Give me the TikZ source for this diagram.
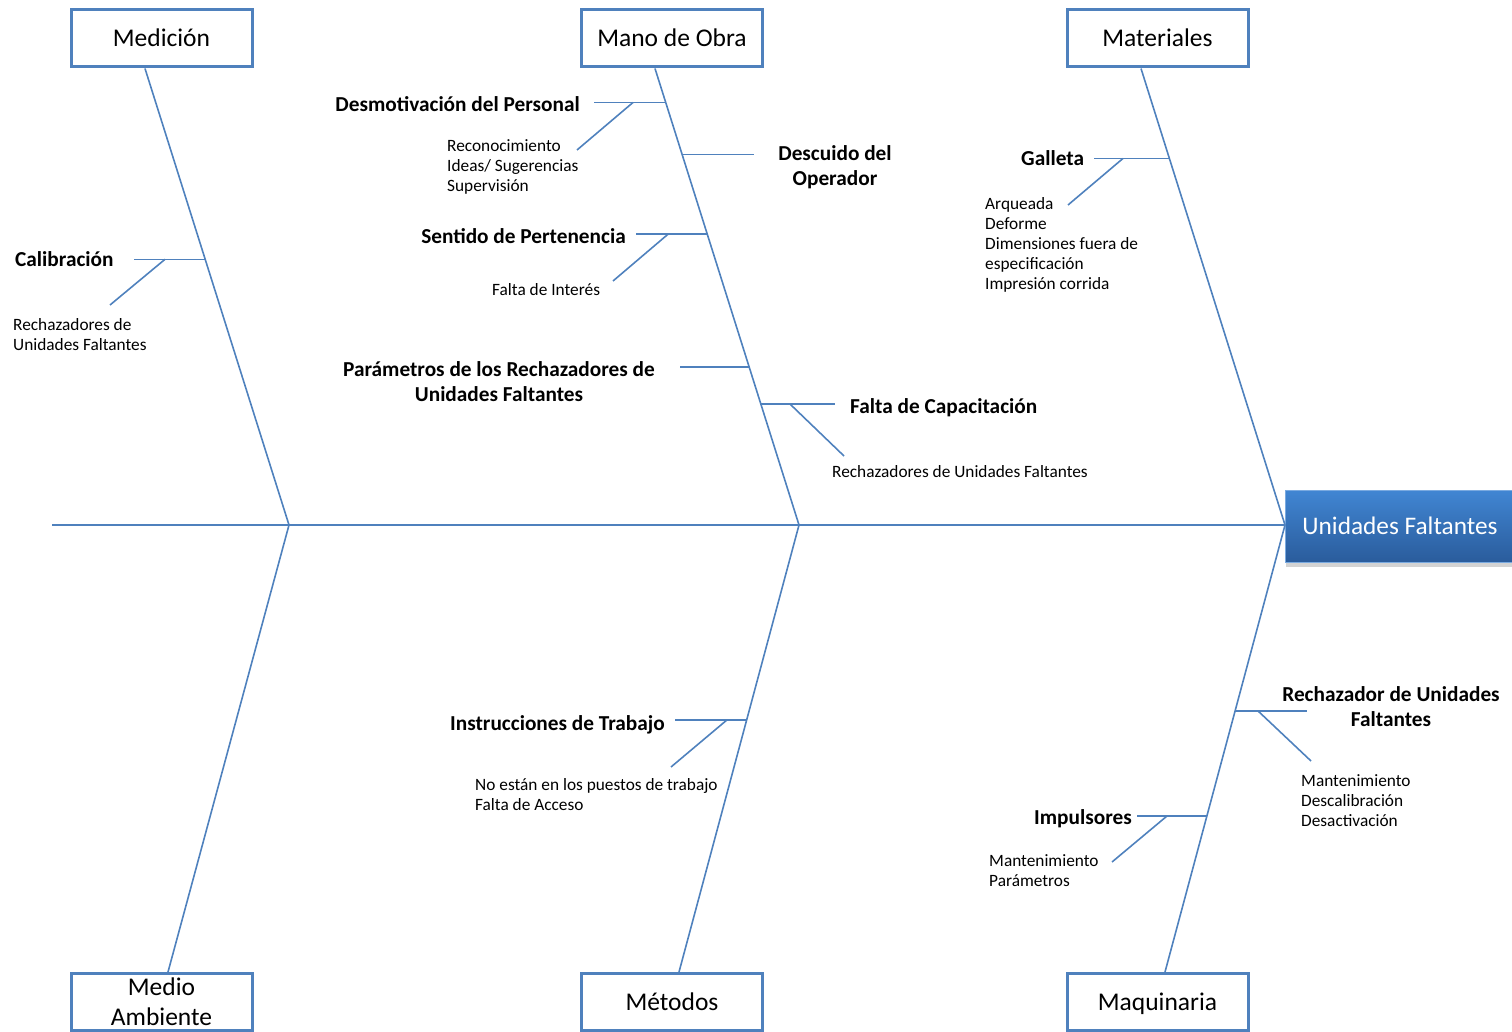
\documentclass[tikz,border=0pt]{standalone}
\usepackage{fontspec}
\setmainfont{Carlito}
\usetikzlibrary{calc,shadows}
\definecolor{bone}{HTML}{4F81BD}
\definecolor{headtop}{HTML}{4186D3}
\definecolor{headbot}{HTML}{2A5C9C}
\begin{document}
\begin{tikzpicture}[x=1pt,y=-1pt,
  catbox/.style={draw=bone, line width=3pt, fill=white, minimum width=181pt, minimum height=57pt,
    font=\fontsize{25.5}{30}\selectfont, align=center, inner sep=0pt},
  catone/.style={catbox, text height=20pt, text depth=3pt},
  headbox/.style={top color=headtop, bottom color=headbot, draw=headtop!70!white, line width=0.6pt,
    minimum width=230pt, minimum height=72pt, text=white, font=\fontsize{25.3}{30}\selectfont,
    drop shadow={shadow xshift=1pt, shadow yshift=-5pt, opacity=0.35}},
  boneline/.style={draw=bone, line width=1.6pt},
  cause/.style={font=\bfseries\fontsize{21.3}{25}\selectfont, inner sep=0pt, align=center},
  sub/.style={font=\fontsize{17.3}{20}\selectfont, inner sep=0pt, align=left, anchor=north west},
]
\useasboundingbox (0,0) rectangle (1512,1032);

% category boxes
\node[catone] (med) at (161.5,38.5) {Medición};
\node[catone] (mano) at (672,38.5) {Mano de Obra};
\node[catone] (mat) at (1157.5,38.5) {Materiales};
\node[catbox] (amb) at (161.5,1002) {Medio\\Ambiente};
\node[catone] (met) at (672,1002) {Métodos};
\node[catone] (maq) at (1157.5,1002) {Maquinaria};

% head
\node[headbox] (head) at (1400,526) {Unidades Faltantes};

% spine
\coordinate (tail) at (52,525);
\coordinate (J1) at (289,525);
\coordinate (J2) at (799,525);
\coordinate (J3) at (1285,525);
\draw[boneline] (tail) -- (J3);

% bones
\coordinate (medT) at ([xshift=-16.5pt]med.south);
\coordinate (manoT) at ([xshift=-17pt]mano.south);
\coordinate (matT) at ([xshift=-16.5pt]mat.south);
\coordinate (ambB) at ([xshift=6.5pt]amb.north);
\coordinate (metB) at ([xshift=7pt]met.north);
\coordinate (maqB) at ([xshift=7.5pt]maq.north);
\draw[boneline] (medT) -- (J1) -- (ambB);
\draw[boneline] (manoT) -- (J2) -- (metB);
\draw[boneline] (matT) -- (J3) -- (maqB);

% junctions on bones
\coordinate (c1) at ($(medT)!0.418!(J1)$);
\coordinate (m1) at ($(manoT)!0.0744!(J2)$);
\coordinate (m2) at ($(manoT)!0.188!(J2)$);
\coordinate (m3) at ($(manoT)!0.363!(J2)$);
\coordinate (m4) at ($(manoT)!0.654!(J2)$);
\coordinate (m5) at ($(manoT)!0.735!(J2)$);
\coordinate (t1) at ($(matT)!0.197!(J3)$);
\coordinate (e1) at ($(J2)!0.436!(metB)$);
\coordinate (q1) at ($(J3)!0.416!(maqB)$);
\coordinate (q2) at ($(J3)!0.651!(maqB)$);

% Medición
\draw[boneline] (c1) -- (134,0 |- c1);
\draw[boneline] (165,0 |- c1) -- (110,305);
\node[cause, anchor=base west] (calib) at (15,267) {Calibración};
\node[sub] (calibS) at (13,318) {Rechazadores de\\Unidades Faltantes};

% Mano de Obra
\draw[boneline] (m1) -- (594,0 |- m1);
\draw[boneline] (633,0 |- m1) -- (577,150);
\node[cause, anchor=base east] (desm) at (580,112) {Desmotivación del Personal};
\node[sub] (desmS) at (447,139) {Reconocimiento\\Ideas/ Sugerencias\\Supervisión};

\draw[boneline] (m2) -- (754,0 |- m2);
\node[cause, anchor=north] (desc) at (835,145) {Descuido del\\Operador};

\draw[boneline] (m3) -- (636,0 |- m3);
\draw[boneline] (668,0 |- m3) -- (613,281);
\node[cause, anchor=base east] (sent) at (626,244) {Sentido de Pertenencia};
\node[sub] (sentS) at (492,283) {Falta de Interés};

\draw[boneline] (m4) -- (680,0 |- m4);
\node[cause, anchor=north] (param) at (499,361.5) {Parámetros de los Rechazadores de\\Unidades Faltantes};

\draw[boneline] (m5) -- (835,0 |- m5);
\draw[boneline] (790,0 |- m5) -- (844,456);
\node[cause, anchor=base west] (capac) at (850,413) {Falta de Capacitación};
\node[sub] (capacS) at (832,465) {Rechazadores de Unidades Faltantes};

% Materiales
\draw[boneline] (t1) -- (1094,0 |- t1);
\draw[boneline] (1123,0 |- t1) -- (1068,205);
\node[cause, anchor=base west] (gall) at (1021,166) {Galleta};
\node[sub] (gallS) at (985,197) {Arqueada\\Deforme\\Dimensiones fuera de\\especificación\\Impresión corrida};

% Métodos
\draw[boneline] (e1) -- (675,0 |- e1);
\draw[boneline] (727,0 |- e1) -- (671,767);
\node[cause, anchor=base east] (instr) at (665,730) {Instrucciones de Trabajo};
\node[sub] (instrS) at (475,778) {No están en los puestos de trabajo\\Falta de Acceso};

% Maquinaria
\draw[boneline] (q1) -- (1307,0 |- q1);
\draw[boneline] (1258,0 |- q1) -- (1311,761);
\node[cause, anchor=north] (rech) at (1391,686) {Rechazador de Unidades\\Faltantes};
\node[sub] (rechS) at (1301,774) {Mantenimiento\\Descalibración\\Desactivación};

\draw[boneline] (q2) -- (1137,0 |- q2);
\draw[boneline] (1167,0 |- q2) -- (1112,862);
\node[cause, anchor=base west] (impul) at (1034,824) {Impulsores};
\node[sub] (impulS) at (989,854) {Mantenimiento\\Parámetros};
\end{tikzpicture}
\end{document}
